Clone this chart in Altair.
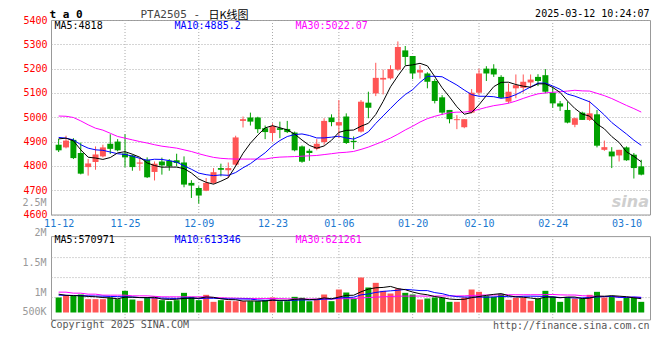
import altair as alt
import pandas as pd

# ---------------- data ----------------
opens = [4887, 4876, 4907, 4853, 4795, 4816, 4839, 4891, 4900, 4851,
         4843, 4809, 4825, 4775, 4818, 4821, 4823, 4814, 4730, 4709,
         4698, 4730, 4791, 4782, 4805, 4985, 4999, 4999, 4955, 4935,
         4955, 4952, 4937, 4880, 4862, 4870, 4898, 4999, 4966, 5003,
         4903, 4941, 5060, 5098, 5155, 5160, 5196, 5275, 5252, 5184,
         5180, 5149, 5082, 5030, 4988, 4959, 5019, 5101, 5200, 5200,
         5166, 5064, 5119, 5121, 5143, 5166, 5173, 5101, 5057, 5030,
         4969, 5019, 4989, 5012, 4866, 4859, 4843, 4876, 4846, 4798]
closes = [4864, 4904, 4832, 4768, 4810, 4847, 4876, 4870, 4864, 4835,
          4795, 4814, 4753, 4809, 4802, 4798, 4812, 4723, 4719, 4678,
          4730, 4774, 4784, 4791, 4917, 4992, 4982, 4951, 4939, 4964,
          4948, 4939, 4864, 4817, 4853, 4891, 4985, 4980, 4980, 4894,
          4898, 5064, 5039, 5162, 5162, 5198, 5289, 5248, 5180, 5194,
          5146, 5067, 5019, 4992, 4992, 4992, 5101, 5180, 5180, 5176,
          5080, 5105, 5132, 5146, 5155, 5149, 5105, 5057, 5044, 4978,
          4996, 4989, 5016, 4883, 4877, 4839, 4866, 4823, 4791, 4764]
highs = [4911, 4924, 4914, 4896, 4828, 4880, 4887, 4930, 4910, 4930,
         4846, 4832, 4835, 4818, 4834, 4828, 4850, 4839, 4741, 4716,
         4750, 4791, 4809, 4814, 4924, 5003, 5019, 5002, 4966, 4975,
         4982, 4985, 4941, 4884, 4870, 4910, 4996, 5012, 5071, 5016,
         4921, 5071, 5105, 5224, 5196, 5214, 5312, 5293, 5252, 5214,
         5185, 5157, 5091, 5030, 5009, 4992, 5116, 5200, 5210, 5218,
         5173, 5139, 5176, 5176, 5176, 5177, 5198, 5125, 5067, 5064,
         4999, 5023, 5068, 5030, 4904, 4877, 4866, 4880, 4853, 4825]
lows = [4857, 4872, 4828, 4765, 4760, 4784, 4835, 4849, 4860, 4794,
        4780, 4780, 4750, 4740, 4764, 4780, 4798, 4712, 4668, 4645,
        4696, 4726, 4757, 4750, 4801, 4958, 4966, 4935, 4910, 4900,
        4914, 4935, 4860, 4813, 4821, 4864, 4887, 4963, 4914, 4890,
        4869, 4937, 4996, 5087, 5094, 5155, 5191, 5214, 5157, 5159,
        5119, 5057, 5009, 4975, 4951, 4955, 5016, 5091, 5149, 5166,
        5078, 5057, 5078, 5101, 5119, 5128, 5098, 5039, 5026, 4975,
        4959, 4989, 4985, 4876, 4862, 4791, 4818, 4821, 4748, 4761]
volumes = [612000, 707000, 680000, 734000, 544000, 544000, 544000, 612000, 544000, 884000,
           530000, 476000, 612000, 612000, 503000, 462000, 503000, 802000, 639000, 503000,
           721000, 435000, 503000, 476000, 462000, 462000, 462000, 462000, 503000, 612000,
           462000, 462000, 639000, 598000, 462000, 544000, 734000, 462000, 938000, 816000,
           571000, 1428000, 1020000, 1210000, 884000, 775000, 979000, 802000, 734000, 530000,
           571000, 612000, 598000, 435000, 435000, 612000, 938000, 843000, 666000, 639000,
           762000, 517000, 598000, 598000, 476000, 571000, 884000, 639000, 435000, 626000,
           571000, 571000, 721000, 843000, 612000, 680000, 476000, 612000, 612000, 435000]

# moving-average values before a full window exists
ma5_head = [4911, 4914, 4903, 4866]
ma10_head = [4917, 4914, 4907, 4887, 4873, 4866, 4864, 4857, 4850]
ma30_head = [5005, 5004, 4999, 4985, 4969, 4955, 4947, 4934, 4921, 4914,
             4907, 4900, 4894, 4887, 4881, 4877, 4873, 4866, 4859, 4850,
             4842, 4835, 4831, 4829, 4828, 4828, 4828, 4828, 4828]
vma5_head = [748000, 700000, 690000, 680000]
vma10_head = [707000, 700000, 695000, 690000, 680000, 672000, 665000, 655000, 648000]
vma30_head = [830000, 830000, 789000, 789000, 748000, 748000, 707000, 707000, 707000, 707000,
              680000, 680000, 680000, 660000, 639000, 639000, 639000, 639000, 639000, 639000,
              639000, 610000, 600000, 590000, 585000, 575000, 570000, 568000, 568000]

tick_labels = ["11-12", "11-25", "12-09", "12-23", "01-06", "01-20", "02-10", "02-24", "03-10"]
tick_index = [0, 9, 19, 29, 38, 48, 57, 67, 77]

price_ma_labels = ["MA5:4818", "MA10:4885.2", "MA30:5022.07"]
volume_ma_labels = ["MA5:570971", "MA10:613346", "MA30:621261"]
vol_axis_labels = ["2.5M", "2M", "1.5M", "1M"]
vol_axis_values = [2500000, 2000000, 1500000, 1000000]
vol_base_label = "500K"
header_left = "t a 0"
title_code = "PTA2505 -"
title_name = "日K线图"
header_time = "2025-03-12 10:24:07"
footer_left = "Copyright 2025 SINA.COM"
footer_right = "http://finance.sina.com.cn"
watermark = "sina"

# ---------------- styles ----------------
RED = "#ff5555"
GREEN = "#00a000"
MA_COLORS = ["#000000", "#0000ff", "#ff00ff"]
MONO = "DejaVu Sans Mono"
CJK = "Noto Sans CJK SC"
GRID = "#aaaaaa"
W = 599
HP = 194.5
HV = 83.4

n = len(closes)


def pad(head):
    return head + [None] * (n - len(head))


df = pd.DataFrame({
    "i": list(range(n)), "open": opens, "close": closes, "high": highs, "low": lows,
    "vol": volumes,
    "ma5h": pad(ma5_head), "ma10h": pad(ma10_head), "ma30h": pad(ma30_head),
    "vma5h": pad(vma5_head), "vma10h": pad(vma10_head), "vma30h": pad(vma30_head),
})

XS = alt.Scale(domain=[-0.36, 79.51], nice=False, zero=False)
PS = alt.Scale(domain=[4600, 5400], nice=False, zero=False)
VS = alt.Scale(domain=[-285600, 3117000], nice=False, zero=False)

label_expr = ("[" + ",".join("'%s'" % t for t in tick_labels) + "][indexof(["
              + ",".join(str(v) for v in tick_index) + "], datum.value)]")
PX = alt.Axis(
    values=tick_index, labelExpr=label_expr, grid=False, domain=False, ticks=False,
    tickSize=0, labelPadding=4, labelColor="#1a78d0", labelFont=MONO, labelFontSize=10,
    labelFlush=False, labelOverlap=False, labelBound=False, title=None)
PY = alt.Axis(
    values=list(range(4600, 5401, 100)), format="d", grid=True, gridColor=GRID,
    gridDash=[1, 2], domain=False, ticks=False, tickSize=0, labelColor="#ff0000",
    labelFont=MONO, labelFontSize=10, labelPadding=4, minExtent=42, maxExtent=42,
    labelFlush=False, labelOverlap=False, labelBound=False, title=None)
VY = alt.Axis(
    values=[641000, 1444000, 2273000], grid=True, gridColor=GRID, gridDash=[1, 2],
    labels=False, domain=False, ticks=False, tickSize=0, minExtent=42, maxExtent=42,
    title=None)
NX = None

up_color = alt.condition("datum.close >= datum.open", alt.value(RED), alt.value(GREEN))
base = alt.Chart(df)


def X(field, xaxis):
    return alt.X(field, scale=XS, axis=xaxis)


def vgrid(xaxis):
    return alt.Chart(pd.DataFrame({"i": tick_index[1:-1]})).mark_rule(
        color=GRID, strokeDash=[1, 2], strokeWidth=1).encode(x=X("i:Q", xaxis))


def ma_layer(field, win, head_col, color, scale, xaxis, yaxis):
    wname = head_col + "w"
    return (alt.Chart(df)
            .transform_window(**{wname: "mean(%s)" % field}, frame=[-(win - 1), 0])
            .transform_calculate(m="datum.i < %d ? datum.%s : datum.%s" % (win - 1, head_col, wname))
            .mark_line(color=color, strokeWidth=1)
            .encode(x=X("i:Q", xaxis), y=alt.Y("m:Q", scale=scale, axis=yaxis)))


def text(txt, x, y, color, size=10, align="left", baseline="middle", weight="normal",
         font=MONO, style="normal"):
    return alt.Chart(pd.DataFrame({"t": [txt]})).mark_text(
        align=align, baseline=baseline, color=color, font=font, fontSize=size,
        fontWeight=weight, fontStyle=style).encode(
        x=alt.value(x), y=alt.value(y), text="t:N")


# ---------------- price panel ----------------
wicks = base.mark_rule(strokeWidth=1).encode(
    x=X("i:Q", PX), y=alt.Y("low:Q", scale=PS, axis=PY), y2="high:Q", color=up_color)
bodies = base.mark_bar(size=6).encode(
    x=X("i:Q", PX), y=alt.Y("open:Q", scale=PS, axis=PY), y2="close:Q", color=up_color)

price = alt.layer(
    vgrid(PX),
    text(watermark, 598, 182, "#cfcfcf", size=16, align="right", weight="bold",
         font="DejaVu Sans", style="italic"),
    wicks, bodies,
    ma_layer("close", 30, "ma30h", MA_COLORS[2], PS, PX, PY),
    ma_layer("close", 10, "ma10h", MA_COLORS[1], PS, PX, PY),
    ma_layer("close", 5, "ma5h", MA_COLORS[0], PS, PX, PY),
    text(price_ma_labels[0], 3.5, 6, MA_COLORS[0]),
    text(price_ma_labels[1], 123.5, 6, MA_COLORS[1]),
    text(price_ma_labels[2], 244.5, 6, MA_COLORS[2]),
    text(header_left, -1.5, -11, "#000000", size=11, baseline="top", weight="bold"),
    text(title_code, 89.5, -11, "#444444", size=11, baseline="top"),
    text(title_name, 157.5, -10.5, "#000000", size=11, baseline="top", font=CJK),
    text(header_time, 598.5, -11, "#000000", size=10, align="right", baseline="top"),
).properties(width=W, height=HP)

# ---------------- volume panel ----------------
vbars = base.mark_bar(size=6).encode(
    x=X("i:Q", NX), y=alt.Y("vol:Q", scale=VS, axis=VY), y2=alt.datum(0), color=up_color)
base_lbl = alt.Chart(pd.DataFrame({"t": [vol_base_label], "v": [0]})).mark_text(
    align="right", baseline="middle", color="#999999", font=MONO, fontSize=10).encode(
    x=alt.value(-4.5), y=alt.Y("v:Q", scale=VS, axis=VY), text="t:N")

inner = alt.layer(
    vgrid(NX), vbars,
    ma_layer("vol", 30, "vma30h", MA_COLORS[2], VS, NX, VY),
    ma_layer("vol", 10, "vma10h", MA_COLORS[1], VS, NX, VY),
    ma_layer("vol", 5, "vma5h", MA_COLORS[0], VS, NX, VY),
    text(volume_ma_labels[0], 3.5, 3.4, MA_COLORS[0]),
    text(volume_ma_labels[1], 123.5, 3.4, MA_COLORS[1]),
    text(volume_ma_labels[2], 244.5, 3.4, MA_COLORS[2]),
    text(footer_left, -0.5, 89, "#555555"),
    text(footer_right, 598.5, 89.7, "#555555", align="right"),
    base_lbl,
)
vlabels = alt.Chart(pd.DataFrame({"t": vol_axis_labels, "v": vol_axis_values})).mark_text(
    align="right", baseline="middle", color="#999999", font=MONO, fontSize=10).encode(
    x=alt.value(-4.5),
    y=alt.Y("v:Q", scale=alt.Scale(domain=[550000, 1940000], nice=False, zero=False), axis=None),
    text="t:N")

volume = alt.layer(inner, vlabels).resolve_scale(y="independent").properties(width=W, height=HV)

chart = alt.vconcat(price, volume, spacing=21.1, bounds="flush", padding=0).configure_view(
    stroke="#999999", strokeWidth=1)

chart.save("out.html", embed_options={"renderer": "svg", "actions": False})
